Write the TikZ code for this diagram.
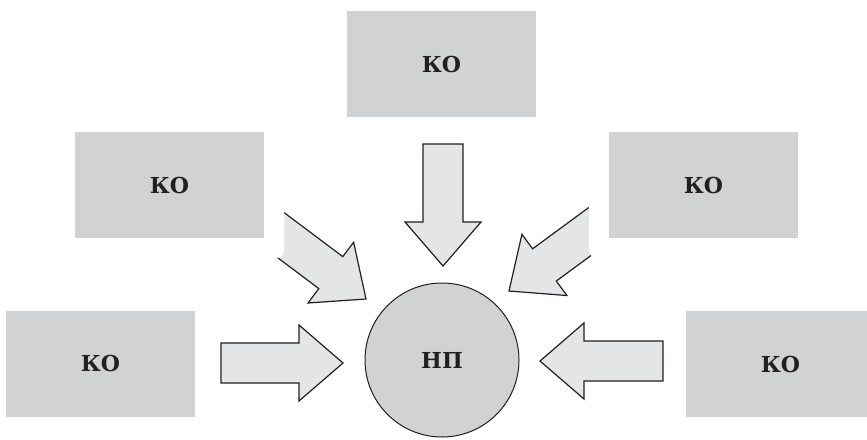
\documentclass[tikz,border=0pt]{standalone}
\usepackage{fontspec}
\setmainfont{DejaVu Serif}
\usepackage{tikz}
\usetikzlibrary{calc}

\definecolor{kogray}{RGB}{209,210,212}
\definecolor{arrgray}{RGB}{228,229,231}
\definecolor{inkline}{RGB}{35,31,32}

\tikzset{
	ko/.style={fill=kogray, minimum width=189pt, minimum height=106pt, inner sep=0pt,
		font=\bfseries\fontsize{22}{26}\selectfont, text=inkline},
	halo/.style={fill=white, draw=black!2, very thin, rounded corners=8pt,
		minimum width=229pt, minimum height=146pt},
	np/.style={circle, draw=inkline, line width=1pt, fill=kogray, minimum size=154pt, inner sep=0pt,
		font=\bfseries\fontsize{22}{26}\selectfont, text=inkline},
	blockarr/.style={draw=inkline, line width=1.2pt, fill=arrgray, line join=miter}
}

% block arrow from tail #1 to tip #2
\newcommand{\blockarrow}[2]{%
	\coordinate (base) at ($(#2)!44pt!(#1)$);
	\draw[blockarr] ($(#1)!20pt!90:(#2)$) -- ($(base)!20pt!90:(#2)$) -- ($(base)!38pt!90:(#2)$) -- (#2)
		-- ($(base)!38pt!-90:(#2)$) -- ($(base)!20pt!-90:(#2)$) -- ($(#1)!20pt!-90:(#2)$) -- cycle;}

\begin{document}
\begin{tikzpicture}[x=1pt,y=-1pt]
	
	\clip (0,0) rectangle (867,439);
	
	% the arrows
	\coordinate (tl) at (221,363);  \coordinate (hl) at (343,363);
	\coordinate (tr) at (663,361);  \coordinate (hr) at (540,361);
	\coordinate (tt) at (443,144);  \coordinate (ht) at (443,266);
	\coordinate (tul) at (246,209); \coordinate (hul) at (366,299);
	\coordinate (tur) at (630,202); \coordinate (hur) at (509,291);
	\blockarrow{tl}{hl}
	\blockarrow{tr}{hr}
	\blockarrow{tt}{ht}
	\blockarrow{tul}{hul}
	\blockarrow{tur}{hur}
	
	% the boxes
	\foreach \n/\x/\y in {top/441.5/64, ul/169.5/185, ur/703.5/185, ll/100.5/363.5, lr/780.5/364} {
		\node[halo] at (\x,\y) {};
		\node[ko] (\n) at (\x,\y) {КО};
	}
	
	% the centre
	\node[np] (np) at (442,360) {НП};
	
\end{tikzpicture}
\end{document}
